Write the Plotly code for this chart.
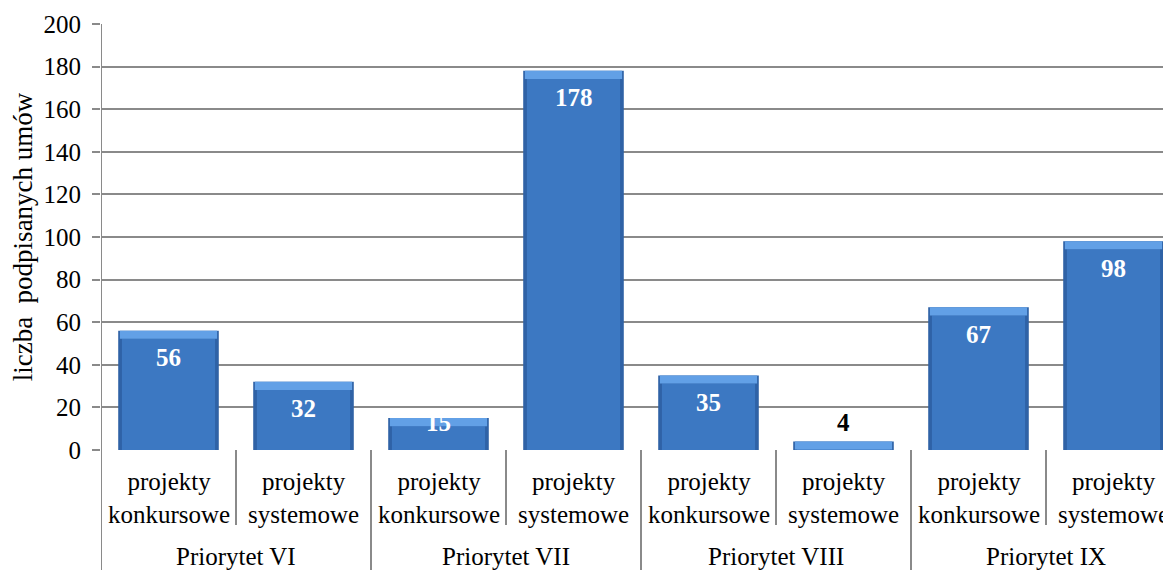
import plotly.graph_objects as go

# data
priorities = ["Priorytet VI", "Priorytet VII", "Priorytet VIII", "Priorytet IX"]
project_types = ["projekty<br>konkursowe", "projekty<br>systemowe"]
signed_contracts = [56, 32, 15, 178, 35, 4, 67, 98]
y_ticks = [0, 20, 40, 60, 80, 100, 120, 140, 160, 180, 200]

FONT = "Liberation Serif"
GRID = "#8a8a8a"
BEVEL = 3.8  # top bevel height in data units

xs = list(range(len(signed_contracts)))
body = [max(v - BEVEL, 0) for v in signed_contracts]
bevel_h = [min(v, BEVEL) for v in signed_contracts]

fig = go.Figure()
# outer (darker edge) bar
fig.add_trace(go.Bar(x=xs, y=signed_contracts, width=0.745,
                     marker=dict(color="#2f62a6", line=dict(width=0)),
                     hoverinfo="skip"))
# inner lighter body
fig.add_trace(go.Bar(x=xs, y=body, width=0.69,
                     marker=dict(color="#3c78c2", line=dict(width=0)),
                     hoverinfo="skip"))
# top bevel
fig.add_trace(go.Bar(x=xs, y=bevel_h, base=body, width=0.72,
                     marker=dict(color="#62a0e6", line=dict(width=0)),
                     hoverinfo="skip"))

# value labels, inside end (white) or above for tiny bars (black)
for x, v in zip(xs, signed_contracts):
    inside = v > 10
    fig.add_annotation(x=x, y=max(v - 12.7, 12.7), text=f"<b>{v}</b>",
                       showarrow=False, yanchor="middle",
                       font=dict(family=FONT, size=25,
                                 color="white" if inside else "black"))

# category labels and dividers below the axis
for i, p in enumerate(priorities):
    for j, t in enumerate(project_types):
        k = 2 * i + j
        fig.add_annotation(x=k, y=-0.113, xref="x", yref="paper", text=t,
                           showarrow=False, yanchor="middle",
                           font=dict(family=FONT, size=25, color="black"))
    fig.add_annotation(x=2 * i + 0.5, y=-0.25, xref="x", yref="paper", text=p,
                       showarrow=False, yanchor="middle",
                       font=dict(family=FONT, size=25, color="black"))
    # short divider between the two types
    fig.add_shape(type="line", xref="x", yref="paper", x0=2 * i + 0.5, x1=2 * i + 0.5,
                  y0=0, y1=-0.176, line=dict(color=GRID, width=2))
    # long divider at group boundaries
    top = 1 if i == 0 else 0
    fig.add_shape(type="line", xref="x", yref="paper", x0=2 * i - 0.5, x1=2 * i - 0.5,
                  y0=top, y1=-0.32, line=dict(color=GRID, width=2))

# the page body adds an 8px offset, so the figure is sized to end at the window edge
fig.update_layout(
    width=1163, height=562,
    margin=dict(l=93, r=0, t=16, b=120, autoexpand=False),
    barmode="overlay",
    showlegend=False,
    font=dict(family=FONT),
    plot_bgcolor="white", paper_bgcolor="white",
    xaxis=dict(range=[-0.5, -0.5 + 1070 / 135], showticklabels=False,
               showgrid=False, zeroline=False, ticks="", automargin=False),
    yaxis=dict(range=[0, 200], tickvals=y_ticks, showgrid=True, gridcolor=GRID,
               gridwidth=2, zeroline=False, ticks="outside", ticklen=8,
               tickcolor=GRID, tickwidth=2, ticklabelstandoff=6, automargin=False,
               tickfont=dict(family=FONT, size=25, color="black"),
               title=dict(text="liczba  podpisanych umów", standoff=6,
                          font=dict(family=FONT, size=27, color="black"))),
)

fig.write_html("out.html")
